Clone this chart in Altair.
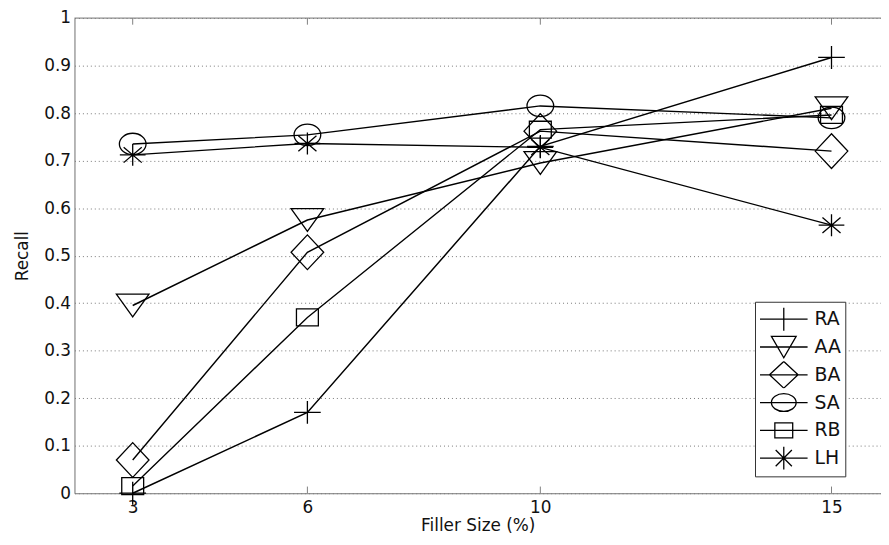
import altair as alt
import pandas as pd

# ---- data ----
x_values = [3, 6, 10, 15]
series_names = ["RA", "AA", "BA", "SA", "RB", "LH"]
RA = [0.0, 0.17, 0.73, 0.917]
AA = [0.395, 0.575, 0.695, 0.81]
BA = [0.07, 0.507, 0.762, 0.72]
SA = [0.735, 0.754, 0.815, 0.79]
RB = [0.015, 0.37, 0.765, 0.796]
LH = [0.712, 0.736, 0.728, 0.564]
x_ticks = [3, 6, 10, 15]
y_ticks = [0, 0.1, 0.2, 0.3, 0.4, 0.5, 0.6, 0.7, 0.8, 0.9, 1]
x_domain = [2, 15.85]
y_domain = [0, 1]

# ---- styles ----
line_widths = [1.5, 1.3, 1.8, 2.0, 1.3, 1.8]
plot_shapes = [
    "M-1.12,0L1.12,0M0,-0.96L0,0.96",
    "M-1.37,-0.96L1.37,-0.96L0,0.96Z",
    "M-1.37,0L0,-1.46L1.37,0L0,1.46Z",
    "M-1.12,0A1.12,0.9,0,1,0,1.12,0A1.12,0.9,0,1,0,-1.12,0Z",
    "M-0.92,-0.71L0.92,-0.71L0.92,0.71L-0.92,0.71Z",
    "M-1.08,0L1.08,0M0,-0.92L0,0.92M-0.76,-0.65L0.76,0.65M-0.76,0.65L0.76,-0.65",
]
legend_line = "M-2,0L2,0"
legend_shapes = [
    legend_line + "M0,-0.96L0,0.96",
    legend_line + "M-1.04,-0.9L1.04,-0.9L0,0.9Z",
    legend_line + "M-1.2,0L0,-1.12L1.2,0L0,1.12Z",
    legend_line + "M-1.04,0A1.04,0.75,0,1,0,1.04,0A1.04,0.75,0,1,0,-1.04,0Z",
    legend_line + "M-0.75,-0.63L0.75,-0.63L0.75,0.63L-0.75,0.63Z",
    legend_line + "M0,-0.96L0,0.96M-0.68,-0.68L0.68,0.68M-0.68,0.68L0.68,-0.68",
]
FONT = "DejaVu Sans"

rows = []
for name, vals in zip(series_names, [RA, AA, BA, SA, RB, LH]):
    for xv, yv in zip(x_values, vals):
        rows.append({"series": name, "x": xv, "y": yv})
df = pd.DataFrame(rows)

X_TITLE = "Filler Size (%)"
Y_TITLE = "Recall"

X = alt.X(
    "x:Q",
    scale=alt.Scale(domain=x_domain, nice=False, zero=False),
    axis=alt.Axis(
        values=x_ticks, title=X_TITLE, ticks=False, grid=False,
        labelPadding=6, titlePadding=3, domainColor="#808080",
        labelFont=FONT, labelFontSize=17, labelColor="#111",
        titleFont=FONT, titleFontSize=17, titleFontWeight="normal", titleColor="#111",
    ),
)
Y = alt.Y(
    "y:Q",
    scale=alt.Scale(domain=y_domain, nice=False, zero=False),
    axis=alt.Axis(
        values=y_ticks, format=".1~f", title=Y_TITLE, ticks=False, grid=True,
        gridDash=[1, 3], gridColor="#777", gridWidth=1,
        labelPadding=4, titlePadding=12, domainColor="#808080",
        labelFont=FONT, labelFontSize=17, labelColor="#111",
        titleFont=FONT, titleFontSize=17, titleFontWeight="normal", titleColor="#111",
    ),
)

# inward tick marks (bottom and top) and top frame line
tick_df = pd.DataFrame({
    "x": x_ticks + x_ticks,
    "y": [y_domain[0]] * len(x_ticks) + [y_domain[1]] * len(x_ticks),
    "y2": [0.014] * len(x_ticks) + [0.986] * len(x_ticks),
})
ticks = alt.Chart(tick_df).mark_rule(color="#808080", strokeWidth=1).encode(
    x=X, y=Y, y2="y2:Q"
)
frame_df = pd.DataFrame({"x": [x_domain[0]], "x2": [x_domain[1]], "y": [y_domain[1]]})
frame = alt.Chart(frame_df).mark_rule(color="#808080", strokeWidth=1).encode(
    x=X, x2="x2:Q", y=Y
)

lines = alt.Chart(df).mark_line(color="black").encode(
    x=X, y=Y, detail="series:N",
    strokeWidth=alt.StrokeWidth(
        "series:N", scale=alt.Scale(domain=series_names, range=line_widths), legend=None
    ),
)

points = alt.Chart(df).mark_point(
    filled=False, color="black", strokeWidth=1.3, size=576, opacity=1
).encode(
    x=X, y=Y,
    shape=alt.Shape("series:N", scale=alt.Scale(domain=series_names, range=plot_shapes), legend=None),
)

legend_layer = alt.Chart(df).transform_filter("false").mark_point(
    filled=False, color="black", strokeWidth=1.3, size=576, opacity=1
).encode(
    x=X, y=Y,
    shape=alt.Shape(
        "series:N",
        scale=alt.Scale(domain=series_names, range=legend_shapes),
        legend=alt.Legend(
            title=None,
            orient="none", legendX=686, legendY=286,
            fillColor="white", strokeColor="#333", padding=4,
            rowPadding=0, clipHeight=27.2, symbolOffset=12, labelOffset=18,
            symbolSize=576, symbolStrokeWidth=1.3, symbolStrokeColor="black",
            symbolFillColor="transparent", symbolOpacity=1,
            labelFont=FONT, labelFontSize=19, labelColor="#111",
        ),
    ),
)

chart = alt.layer(ticks, frame, lines, points, legend_layer).resolve_scale(
    shape="independent"
).properties(
    width=813, height=479,
    autosize=alt.AutoSizeParams(type="none"),
    padding={"left": 67, "top": 8, "right": 0, "bottom": 40},
).configure_view(stroke=None).configure(background="white")

chart.save("out.html", embed_options={"renderer": "svg", "actions": False})
